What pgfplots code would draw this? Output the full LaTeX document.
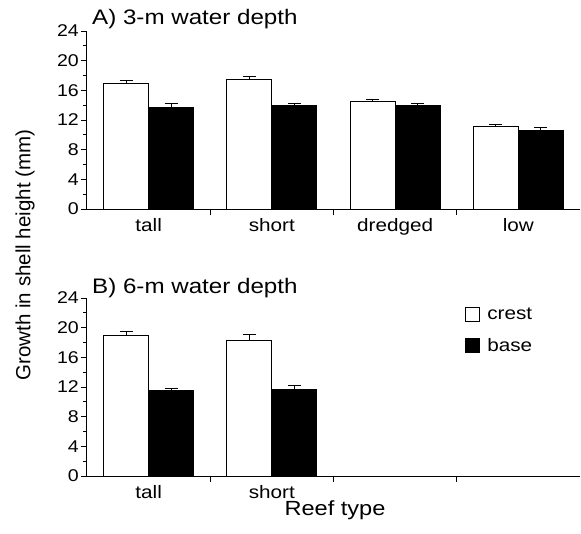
\documentclass[border=0pt]{standalone}
\usepackage{pgfplots}
\pgfplotsset{compat=1.18}
\usepackage{fontspec}
\setmainfont{Liberation Sans}[FakeStretch=1.15]
\newfontfamily\plainfont{Liberation Sans}
\begin{document}
\begin{tikzpicture}[x=1pt,y=1pt]
\path[use as bounding box] (-87pt,-324pt) rectangle (494pt,209pt);
\pgfplotsset{reef/.style={
  scale only axis, width=493pt, height=178pt,
  xmin=-0.5, xmax=3.5, ymin=0, ymax=24,
  axis x line*=bottom, axis y line*=left,
  axis line style={-, line width=1pt},
  clip=false,
  ytick={0,4,...,24}, minor ytick={2,6,...,22},
  tick align=outside, major tick length=6pt, minor tick length=3.5pt,
  tick style={line width=1pt, black},
  xtick={0.5,1.5,2.5}, xticklabels={},
  extra x tick style={tick style={draw=none}},
  /pgf/number format/assume math mode=true,
  yticklabel style={font=\fontsize{17}{17}\selectfont, inner sep=2pt},
  xticklabel style={font=\fontsize{18}{18}\selectfont, inner sep=2pt, yshift=-1pt},
  crestbar/.style={ybar, bar width=45pt, bar shift=0pt, fill=white, draw=black, line width=1pt,
    error bars/.cd, y dir=plus, y explicit, error mark=|,
    error bar style={line width=1pt, black},
    error mark options={mark size=6.5pt, line width=1pt, black}},
  basebar/.style={ybar, bar width=45pt, bar shift=0pt, fill=black, draw=black, line width=1pt,
    error bars/.cd, y dir=plus, y explicit, error mark=|,
    error bar style={line width=1pt, black},
    error mark options={mark size=6.5pt, line width=1pt, black}},
}}
\begin{axis}[reef, at={(0pt,0pt)}, anchor=south west,
  extra x ticks={0,1,2,3}, extra x tick labels={tall,short,dredged,low}]
\addplot[crestbar]
  coordinates {(-0.183,16.96) +- (0,0.31) (0.817,17.5) +- (0,0.35) (1.817,14.48) +- (0,0.32) (2.817,11.08) +- (0,0.36)};
\addplot[basebar]
  coordinates {(0.183,13.73) +- (0,0.44) (1.183,13.9) +- (0,0.27) (2.183,13.94) +- (0,0.23) (3.183,10.54) +- (0,0.44)};
\node[anchor=base west, font=\fontsize{21}{21}\selectfont, inner sep=0pt]
  at (rel axis cs:0,1) [xshift=5pt, yshift=7pt] {A) 3-m water depth};
\end{axis}
\begin{axis}[reef, at={(0pt,-267pt)}, anchor=south west,
  extra x ticks={0,1}, extra x tick labels={tall,short},
  legend style={at={(axis description cs:0.767,0.965)}, anchor=north west, draw=none, fill=none,
    font=\fontsize{18}{18}\selectfont, row sep=12pt, inner sep=0pt,
    nodes={inner sep=3pt}},
  legend cell align=left]
\addlegendimage{legend image code/.code={\draw[fill=white, draw=black, line width=1pt] (0pt,-7pt) rectangle (14pt,7pt);}}
\addlegendentry{\hspace{4pt}crest}
\addlegendimage{legend image code/.code={\draw[fill=black, draw=black, line width=1pt] (0pt,-7pt) rectangle (14pt,7pt);}}
\addlegendentry{\hspace{4pt}base}
\addplot[forget plot, crestbar]
  coordinates {(-0.183,18.9) +- (0,0.55) (0.817,18.3) +- (0,0.75)};
\addplot[forget plot, basebar]
  coordinates {(0.183,11.5) +- (0,0.3) (1.183,11.6) +- (0,0.65)};
\node[anchor=base west, font=\fontsize{21}{21}\selectfont, inner sep=0pt]
  at (rel axis cs:0,1) [xshift=5pt, yshift=5pt] {B) 6-m water depth};
\end{axis}
\node[rotate=90, font=\plainfont\fontsize{20.5}{20.5}\selectfont] at (-62pt,-46pt) {Growth in shell height (mm)};
\node[font=\fontsize{20.5}{20.5}\selectfont] at (248pt,-301pt) {Reef type};
\end{tikzpicture}
\end{document}
